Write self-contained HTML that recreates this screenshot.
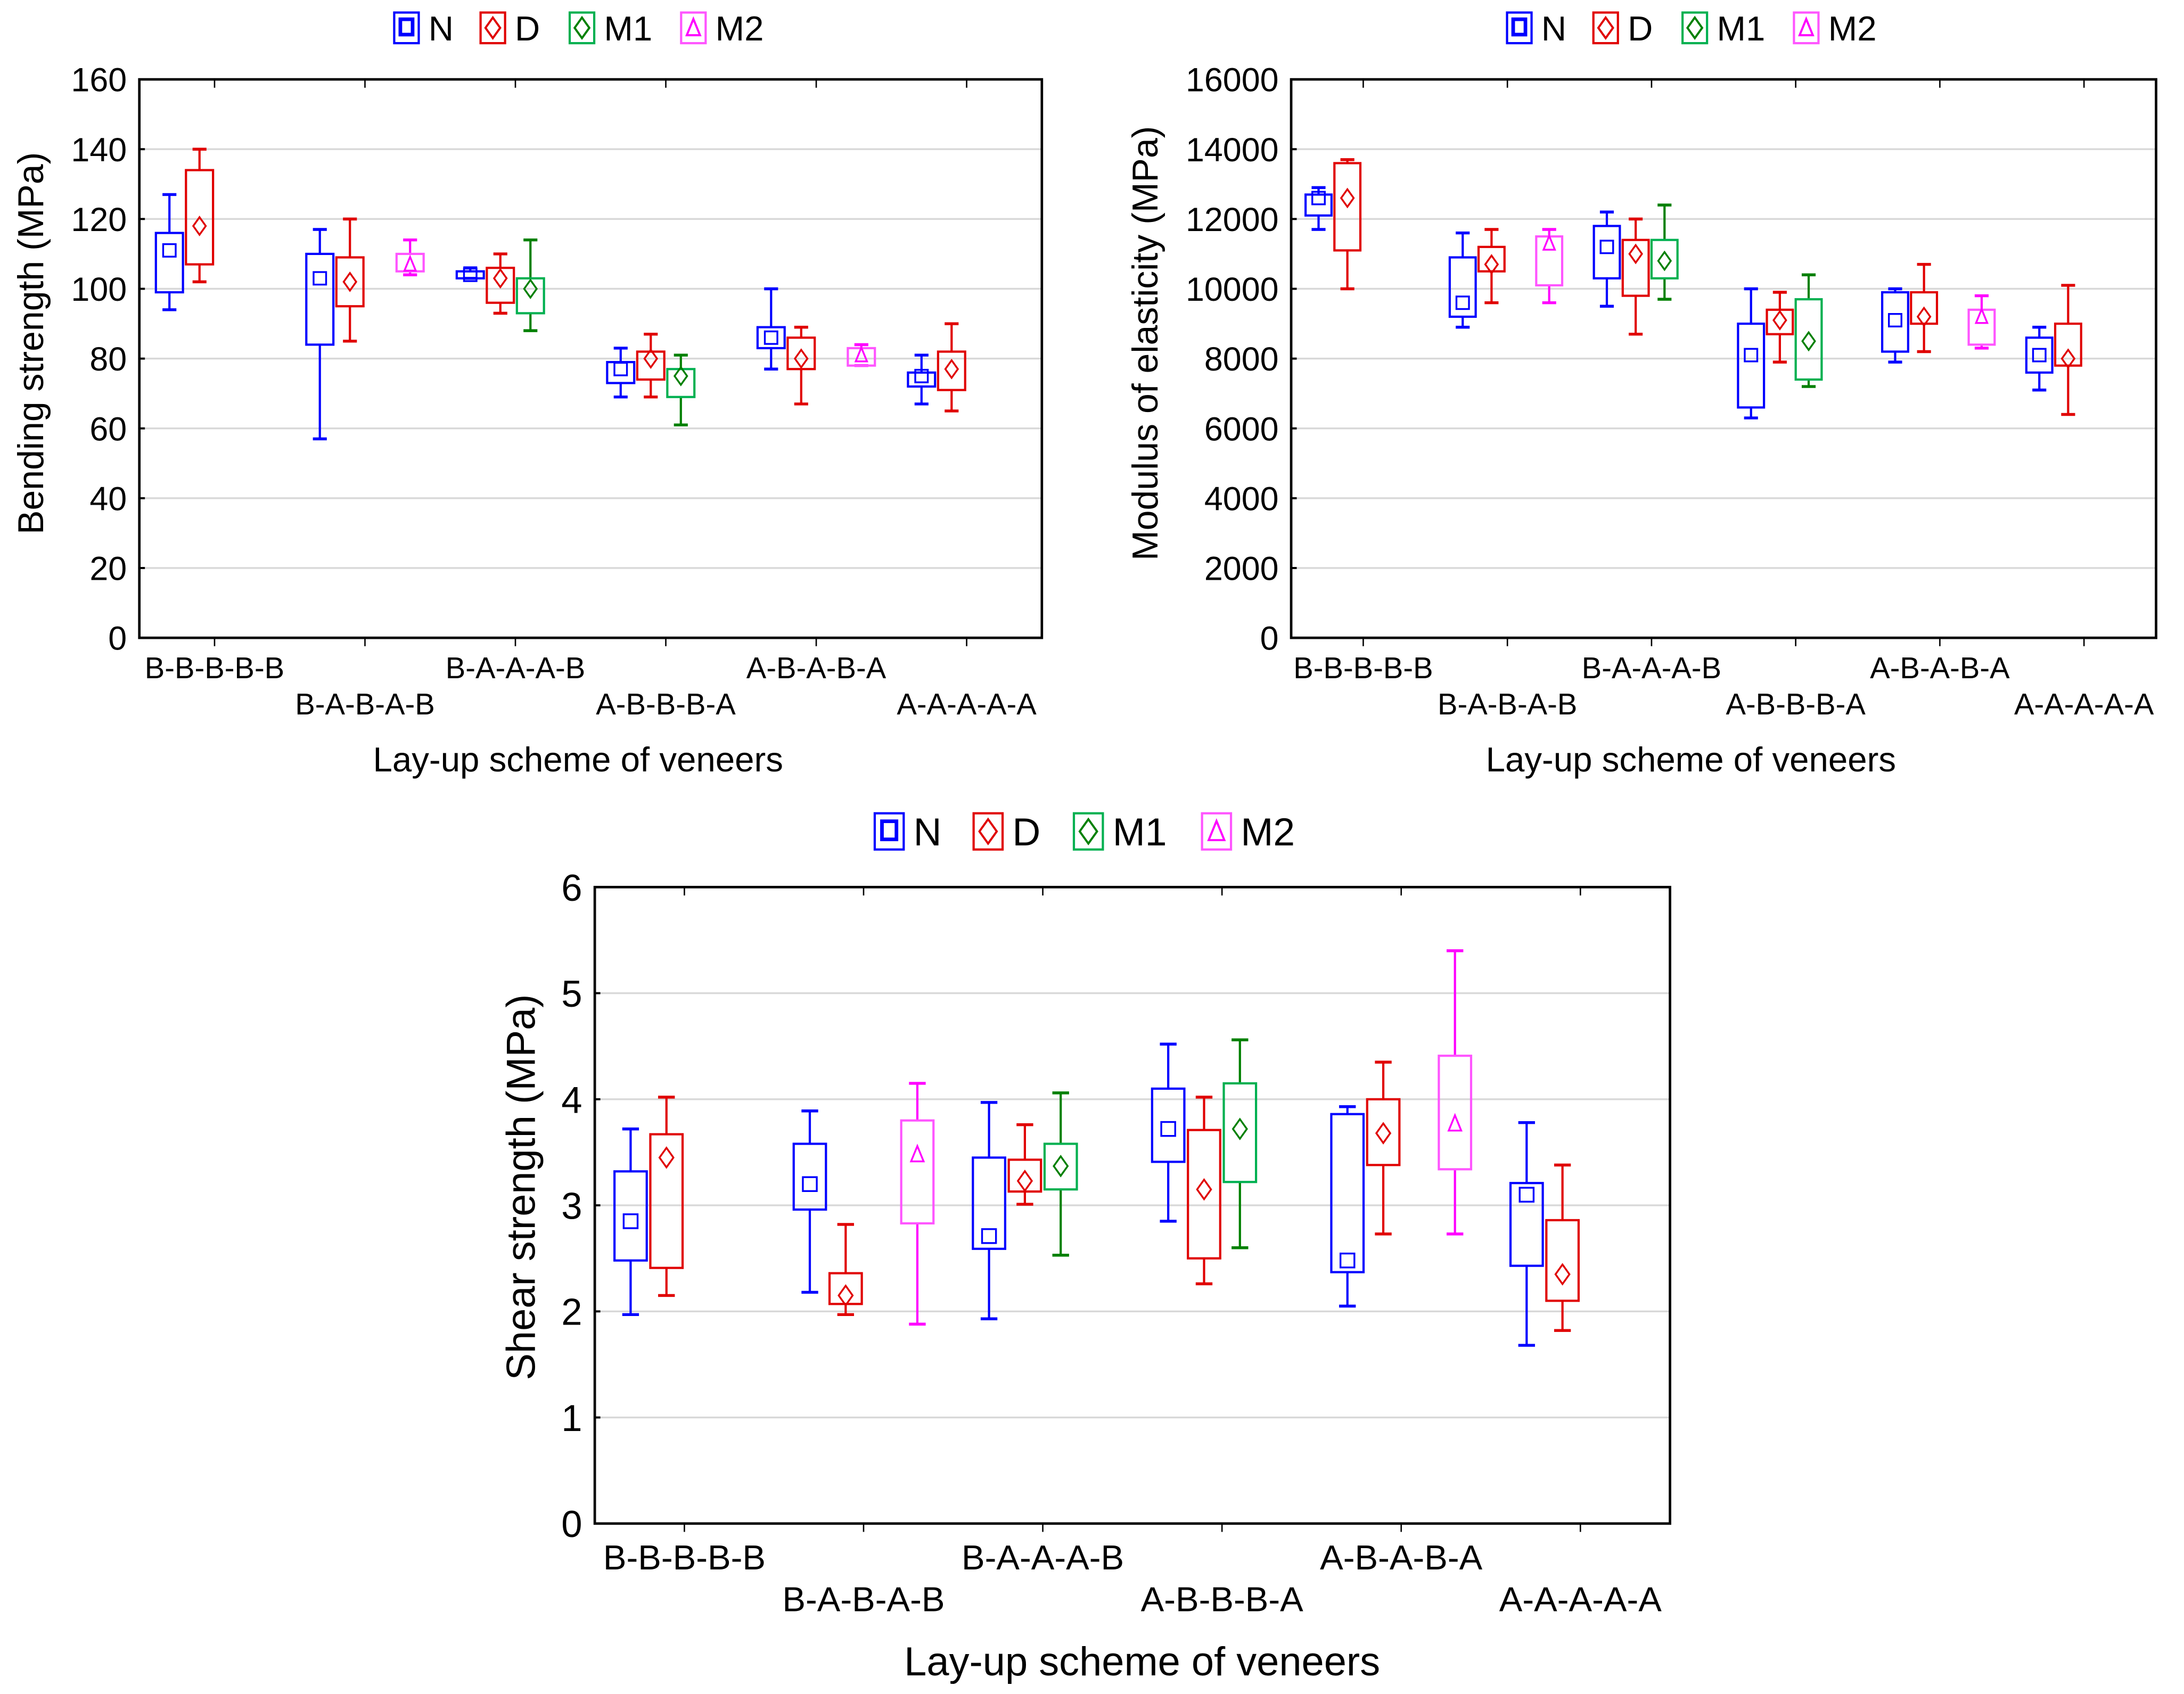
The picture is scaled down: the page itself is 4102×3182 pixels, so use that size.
<!DOCTYPE html>
<html><head><meta charset="utf-8">
<style>
html,body{margin:0;padding:0;background:#fff;}
svg{display:block;}
text{font-family:"Liberation Sans",Arial,sans-serif;fill:#000;}
</style></head>
<body>
<svg id="root" xmlns="http://www.w3.org/2000/svg" width="4102" height="3182" viewBox="0 0 1568 1216.4"></svg>
<script>
// ---------- data ----------
const categories = ["B-B-B-B-B","B-A-B-A-B","B-A-A-A-B","A-B-B-B-A","A-B-A-B-A","A-A-A-A-A"];
const seriesNames = ["N","D","M1","M2"];
// each entry: [categoryIndex, seriesIndex, whiskerLow, boxLow, center, boxHigh, whiskerHigh]
const bendingData = [
 [0,0,94,99,111,116,127],[0,1,102,107,118,134,140],
 [1,0,57,84,103,110,117],[1,1,85,95,102,109,120],[1,3,104,105,107,110,114],
 [2,0,103,103,104,105,106],[2,1,93,96,103,106,110],[2,2,88,93,100,103,114],
 [3,0,69,73,77,79,83],[3,1,69,74,80,82,87],[3,2,61,69,75,77,81],
 [4,0,77,83,86,89,100],[4,1,67,77,80,86,89],[4,3,78,78,81,83,84],
 [5,0,67,72,75,76,81],[5,1,65,71,77,82,90]
];
const bendingTicks = [0,20,40,60,80,100,120,140,160];
const moeData = [
 [0,0,11700,12100,12600,12700,12900],[0,1,10000,11100,12600,13600,13700],
 [1,0,8900,9200,9600,10900,11600],[1,1,9600,10500,10700,11200,11700],[1,3,9600,10100,11300,11500,11700],
 [2,0,9500,10300,11200,11800,12200],[2,1,8700,9800,11000,11400,12000],[2,2,9700,10300,10800,11400,12400],
 [3,0,6300,6600,8100,9000,10000],[3,1,7900,8700,9100,9400,9900],[3,2,7200,7400,8500,9700,10400],
 [4,0,7900,8200,9100,9900,10000],[4,1,8200,9000,9200,9900,10700],[4,3,8300,8400,9200,9400,9800],
 [5,0,7100,7600,8100,8600,8900],[5,1,6400,7800,8000,9000,10100]
];
const moeTicks = [0,2000,4000,6000,8000,10000,12000,14000,16000];
const shearData = [
 [0,0,1.97,2.48,2.85,3.32,3.72],[0,1,2.15,2.41,3.45,3.67,4.02],
 [1,0,2.18,2.96,3.20,3.58,3.89],[1,1,1.97,2.07,2.15,2.36,2.82],[1,3,1.88,2.83,3.48,3.80,4.15],
 [2,0,1.93,2.59,2.71,3.45,3.97],[2,1,3.01,3.13,3.23,3.43,3.76],[2,2,2.53,3.15,3.37,3.58,4.06],
 [3,0,2.85,3.41,3.72,4.10,4.52],[3,1,2.26,2.50,3.15,3.71,4.02],[3,2,2.60,3.22,3.72,4.15,4.56],
 [4,0,2.05,2.37,2.48,3.86,3.93],[4,1,2.73,3.38,3.68,4.00,4.35],[4,3,2.73,3.34,3.77,4.41,5.40],
 [5,0,1.68,2.43,3.10,3.21,3.78],[5,1,1.82,2.10,2.35,2.86,3.38]
];
const shearTicks = [0,1,2,3,4,5,6];

// ---------- drawing ----------
const NS="http://www.w3.org/2000/svg";
const root=document.getElementById('root');
const boxCol=["#0000ff","#e00000","#00b050","#ff55ff"];
const markCol=["#0000ff","#e00000","#008000","#ff00ff"];
function mk(tag,attrs,parent){const e=document.createElementNS(NS,tag);for(const k in attrs)e.setAttribute(k,attrs[k]);(parent||root).appendChild(e);return e;}

function marker(g,s,cx,cy,sz,col,lw){
  let e;
  if(s===0){e=mk('rect',{x:cx-sz,y:cy-sz,width:2*sz,height:2*sz,fill:'none',stroke:col,'stroke-width':lw},g);}
  else if(s===3){e=mk('polygon',{points:`${cx},${cy-sz*1.2} ${cx+sz*0.9},${cy+sz} ${cx-sz*0.9},${cy+sz}`,fill:'none',stroke:col,'stroke-width':lw},g);}
  else if(s===2 && g.getAttribute('data-circle')==='1'){e=mk('circle',{cx:cx,cy:cy,r:sz,fill:'none',stroke:col,'stroke-width':lw},g);}
  else {e=mk('polygon',{points:`${cx},${cy-sz*1.4} ${cx+sz},${cy} ${cx},${cy+sz*1.4} ${cx-sz},${cy}`,fill:'none',stroke:col,'stroke-width':lw},g);}
  return e;
}

function chart(o){
  const g=mk('g',{});
  
  
  if(o.circleM1) g.setAttribute('data-circle','1');
  const {x0,x1,y0,y1,ymax,data,ticks}=o;
  const yS=v=>y1-(v/ymax)*(y1-y0);
  const gw=(x1-x0)/categories.length;
  const xS=(c,s)=>x0+gw*c+gw*o.slotStart+s*gw*o.slotStep;
  ticks.forEach(t=>{
    if(t>0&&t<ymax){const l=mk('line',{x1:x0,x2:x1,y1:yS(t),y2:yS(t),stroke:'#d8d8d8','stroke-width':1.3},g);
      }
    mk('line',{x1:x0,x2:x0+4,y1:yS(t),y2:yS(t),stroke:'#000','stroke-width':1.5},g);
    const tx=mk('text',{x:x0-9,y:yS(t)+o.tfs*0.36,'text-anchor':'end','font-size':o.tfs},g);
    tx.textContent=t;
    
    
  });
  categories.forEach((c,i)=>{
    const cx=x0+gw*(i+0.5);
    mk('line',{x1:cx,x2:cx,y1:y1,y2:y1+6,stroke:'#000','stroke-width':1},g);
    mk('line',{x1:cx,x2:cx,y1:y0,y2:y0+6,stroke:'#000','stroke-width':1},g);
    const t=mk('text',{x:cx,y:y1+(i%2?o.lab2:o.lab1),'text-anchor':'middle','font-size':o.cfs},g);
    t.textContent=c;
    
    
  });
  const bw=gw*o.boxFrac/2;
  data.forEach(d=>{
    const [c,s,wl,bl,m,bh,wh]=d;
    const cx=xS(c,s);
    const bg=mk('g',{},g);
    
    
    const col=boxCol[s], lw=o.lw;
    mk('line',{x1:cx,x2:cx,y1:yS(wh),y2:yS(bh),stroke:markCol[s],'stroke-width':lw},bg);
    mk('line',{x1:cx,x2:cx,y1:yS(bl),y2:yS(wl),stroke:markCol[s],'stroke-width':lw},bg);
    mk('line',{x1:cx-o.cap,x2:cx+o.cap,y1:yS(wh),y2:yS(wh),stroke:markCol[s],'stroke-width':lw*1.3},bg);
    mk('line',{x1:cx-o.cap,x2:cx+o.cap,y1:yS(wl),y2:yS(wl),stroke:markCol[s],'stroke-width':lw*1.3},bg);
    mk('rect',{x:cx-bw,y:yS(bh),width:2*bw,height:Math.max(1,yS(bl)-yS(bh)),fill:'none',stroke:col,'stroke-width':lw},bg);
    marker(bg,s,cx,yS(m),o.ms,markCol[s],1.3);
  });
  const fr=mk('rect',{x:x0,y:y0,width:x1-x0,height:y1-y0,fill:'none',stroke:'#000','stroke-width':1.8},g);
  
  const yc=(y0+y1)/2+o.ytdy;
  const yt=mk('text',{x:o.ytx,y:yc,'text-anchor':'middle','font-size':o.yfs,transform:`rotate(-90 ${o.ytx} ${yc})`},g);
  yt.textContent=o.ytitle;
  
  const xt=mk('text',{x:o.xtx,y:o.xty,'text-anchor':'middle','font-size':o.afs},g);
  xt.textContent="Lay-up scheme of veneers";
  
  const lg=mk('g',{},g);
  
  o.legX.forEach((lx,s)=>{
    const e=mk('g',{},lg);
    
    
    const h=o.legH;
    mk('rect',{x:lx,y:o.legY-h/2,width:h*0.8,height:h,fill:'none',stroke:boxCol[s],'stroke-width':1.6},e);
    if(s===0) mk('rect',{x:lx+h*0.2,y:o.legY-h*0.28,width:h*0.4,height:h*0.5,fill:'none',stroke:boxCol[0],'stroke-width':2.6},e);
    else marker(e,s,lx+h*0.4,o.legY,h*0.24,markCol[s],1.5);
    const t=mk('text',{x:lx+h*0.8+7,y:o.legY+o.lfs*0.36,'font-size':o.lfs},e);
    t.textContent=seriesNames[s];
  });
}

chart({name:'bending-strength-chart',x0:100,x1:748,y0:57,y1:458,ymax:160,data:bendingData,ticks:bendingTicks,
  slotStart:0.2,slotStep:0.2,boxFrac:0.18,cap:5,lw:1.6,ms:4.5,tfs:24,cfs:21.5,afs:25,yfs:26,lab1:29,lab2:55,
  ytitle:"Bending strength (MPa)",ytx:31,ytdy:-11,xtx:415,xty:554,legX:[283,345,409,489],legY:20,legH:22,lfs:25,circleM1:true});
chart({name:'modulus-of-elasticity-chart',x0:927,x1:1548,y0:57,y1:458,ymax:16000,data:moeData,ticks:moeTicks,
  slotStart:0.19,slotStep:0.2,boxFrac:0.18,cap:5,lw:1.6,ms:4.5,tfs:24,cfs:21.5,afs:25,yfs:26,lab1:29,lab2:55,
  ytitle:"Modulus of elasticity (MPa)",ytx:831,ytdy:-11,xtx:1214,xty:554,legX:[1082,1144,1208,1288],legY:20,legH:22,lfs:25,circleM1:true});
chart({name:'shear-strength-chart',x0:427,x1:1199,y0:637,y1:1094,ymax:6,data:shearData,ticks:shearTicks,
  slotStart:0.2,slotStep:0.2,boxFrac:0.18,cap:6,lw:1.6,ms:5,tfs:27,cfs:25,afs:29,yfs:29,lab1:33,lab2:63,
  ytitle:"Shear strength (MPa)",ytx:384,ytdy:-13,xtx:820,xty:1203,legX:[628,699,771,863],legY:597,legH:26,lfs:28,circleM1:false});
</script>
</body></html>
